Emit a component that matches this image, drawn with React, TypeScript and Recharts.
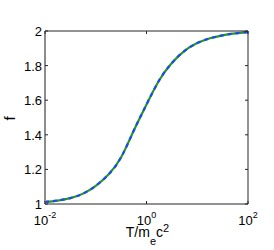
import React from 'react';
import { LineChart, Line, XAxis, YAxis } from 'recharts';

const temperatures = [
  0.01, 0.0178, 0.0316, 0.0562, 0.1, 0.178, 0.316, 0.562, 1, 1.78, 3.16, 5.62, 10, 17.8, 31.6, 56.2, 100,
];
const fValues = [
  1.012, 1.02, 1.034, 1.06, 1.105, 1.17, 1.27, 1.425, 1.575, 1.715, 1.815, 1.885, 1.93, 1.958, 1.975, 1.986, 1.993,
];

const xTicks = [0.01, 1, 100];
const xTickExponents = ['-2', '0', '2'];
const yTicks = [1, 1.2, 1.4, 1.6, 1.8, 2];
const yTickLabels = ['1', '1.2', '1.4', '1.6', '1.8', '2'];

const data = temperatures.map((t, i) => ({ t, f: fValues[i], fDash: fValues[i] }));

const FONT = '"Liberation Sans", Arial, Helvetica, sans-serif';
const AXIS_COLOR = '#262626';
const TICK_LEN = 3;

const BottomTick = (props: any) => {
  const { x, y, index } = props;
  return (
    <g>
      <line x1={x} y1={y} x2={x} y2={y - TICK_LEN} stroke={AXIS_COLOR} strokeWidth={1} />
      <text x={x} y={y + 21} textAnchor="middle" fontSize={13} fontFamily={FONT} fill="#000">
        <tspan>10</tspan>
        <tspan fontSize={9} dy={-7}>{xTickExponents[index]}</tspan>
      </text>
    </g>
  );
};

const TopTick = (props: any) => {
  const { x, y } = props;
  return <line x1={x} y1={y} x2={x} y2={y + TICK_LEN} stroke={AXIS_COLOR} strokeWidth={1} />;
};

const LeftTick = (props: any) => {
  const { x, y, index } = props;
  return (
    <g>
      <line x1={x} y1={y} x2={x + TICK_LEN} y2={y} stroke={AXIS_COLOR} strokeWidth={1} />
      <text x={x - 3} y={y + 5} textAnchor="end" fontSize={13} fontFamily={FONT} fill="#000">
        {yTickLabels[index]}
      </text>
    </g>
  );
};

const RightTick = (props: any) => {
  const { x, y } = props;
  return <line x1={x} y1={y} x2={x - TICK_LEN} y2={y} stroke={AXIS_COLOR} strokeWidth={1} />;
};

const renderXLabel = (props: any) => {
  const vb = props.viewBox || { x: 45, y: 204, width: 203, height: 46 };
  return (
    <text x={vb.x + vb.width / 2 + 1} y={vb.y + 33} textAnchor="middle" fontSize={14} fontFamily={FONT} fill="#000">
      <tspan>T/m</tspan>
      <tspan fontSize={11} dy={8}>e</tspan>
      <tspan fontSize={14} dy={-8}>c</tspan>
      <tspan fontSize={11} dy={-5}>2</tspan>
    </text>
  );
};

const renderYLabel = (props: any) => {
  const vb = props.viewBox || { x: 0, y: 31, width: 45, height: 173 };
  const cy = vb.y + vb.height / 2 + 1;
  return (
    <text
      x={15}
      y={cy}
      transform={`rotate(-90, 15, ${cy})`}
      textAnchor="middle"
      fontSize={15}
      fontFamily={FONT}
      fill="#000"
    >
      f
    </text>
  );
};

export default function App() {
  return (
    <div style={{ position: 'absolute', left: 0, top: 0, width: 274, height: 250, background: '#fff' }}>
      <LineChart width={274} height={250} data={data} margin={{ top: 30, right: 25, bottom: 0, left: 0 }}>
        <XAxis
          dataKey="t"
          type="number"
          scale="log"
          domain={[0.01, 100]}
          ticks={xTicks}
          interval={0}
          allowDataOverflow
          height={46}
          stroke={AXIS_COLOR}
          tickSize={0}
          tickMargin={0}
          tickLine={false}
          tick={<BottomTick />}
          label={{ content: renderXLabel }}
        />
        {/* top and right axes only close the box with inward ticks */}
        <XAxis
          xAxisId="top"
          dataKey="t"
          type="number"
          scale="log"
          domain={[0.01, 100]}
          ticks={xTicks}
          interval={0}
          allowDataOverflow
          orientation="top"
          height={1}
          stroke={AXIS_COLOR}
          tickSize={0}
          tickMargin={0}
          tickLine={false}
          tick={<TopTick />}
        />
        <YAxis
          type="number"
          domain={[1, 2]}
          ticks={yTicks}
          interval={0}
          allowDataOverflow
          width={45}
          stroke="#8c8c8c"
          strokeWidth={2}
          tickSize={0}
          tickMargin={0}
          tickLine={false}
          tick={<LeftTick />}
          label={{ content: renderYLabel }}
        />
        <YAxis
          yAxisId="right"
          orientation="right"
          type="number"
          domain={[1, 2]}
          ticks={yTicks}
          interval={0}
          allowDataOverflow
          width={1}
          stroke={AXIS_COLOR}
          tickSize={0}
          tickMargin={0}
          tickLine={false}
          tick={<RightTick />}
        />
        <Line
          type="natural"
          dataKey="f"
          stroke="#1f9a1f"
          strokeWidth={2.2}
          dot={false}
          isAnimationActive={false}
        />
        <Line
          xAxisId="top"
          yAxisId="right"
          type="natural"
          dataKey="fDash"
          stroke="#2244ff"
          strokeWidth={2.2}
          strokeDasharray="4 4"
          dot={false}
          isAnimationActive={false}
        />
      </LineChart>
    </div>
  );
}
